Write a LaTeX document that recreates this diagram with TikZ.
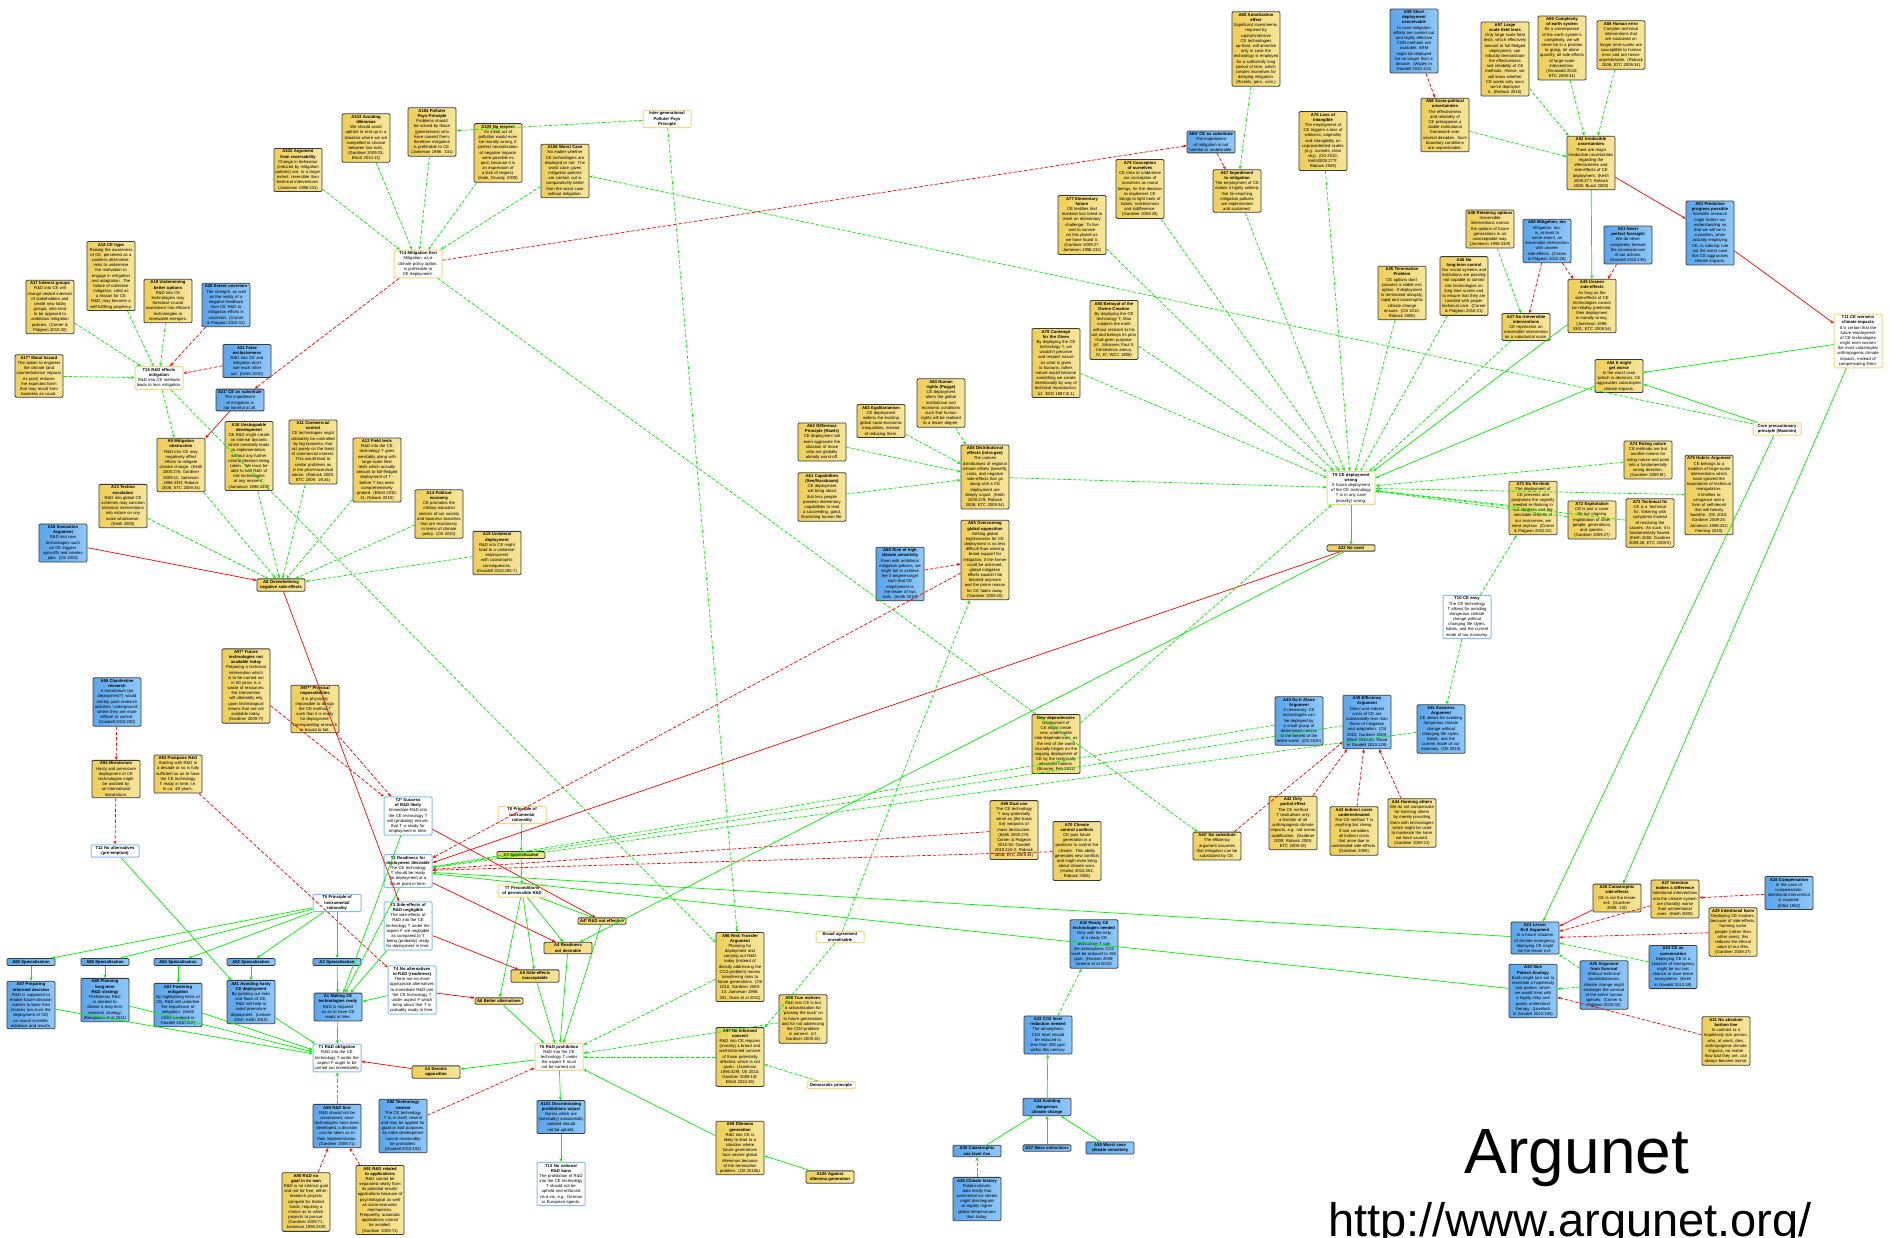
\documentclass[tikz,border=0pt]{standalone}
\usepackage{fontspec}
\setmainfont{Liberation Sans}
\usetikzlibrary{arrows.meta}

\definecolor{ylL}{HTML}{EFCF58}
\definecolor{ylR}{HTML}{F6E59C}
\definecolor{blL}{HTML}{5AA5EC}
\definecolor{blR}{HTML}{8FC7F8}
\definecolor{bdr}{HTML}{3A3A3A}
\definecolor{thYb}{HTML}{F2D77E}
\definecolor{thBb}{HTML}{86BDF0}
\definecolor{gr}{HTML}{00F000}
\definecolor{rd}{HTML}{FF0000}

% small box text, no hyphenation
\newcommand{\boxfont}{\fontsize{4.2}{5.17}\selectfont\hyphenpenalty=10000\exhyphenpenalty=10000}

\tikzset{
  box/.style={rectangle, rounded corners=1.2pt, text width=45pt, align=center,
    inner xsep=1.5pt, inner ysep=1.6pt, font=\boxfont, line width=0.8pt},
  argY/.style={box, draw=bdr, left color=ylL, right color=ylR},
  argB/.style={box, draw=bdr, left color=blL, right color=blR},
  thY/.style={box, draw=thYb, fill=white, line width=1pt},
  thB/.style={box, draw=thBb, fill=white, line width=1pt},
  link/.style={line width=0.7pt, -{Stealth[length=3.6pt,width=3pt]}},
  pro/.style={link, draw=gr, dash pattern=on 3.5pt off 1.8pt},
  proS/.style={link, draw=gr},
  con/.style={link, draw=rd, dash pattern=on 3.5pt off 1.8pt},
  conS/.style={link, draw=rd},
}

% argument or thesis box with a bold title and a body text
\newcommand{\mkarg}[5]{\node[#1] (#2) at (#3) {\textbf{#4}\\#5};}
% box that carries a title only
\newcommand{\mktitle}[4]{\node[#1] (#2) at (#3) {\textbf{#4}};}

\begin{document}
\begin{tikzpicture}[x=1pt, y=-1pt]
\useasboundingbox (0,0) rectangle (1889,1238);
\fill[white] (0,0) rectangle (1889,1238);

% ---------- mitigation cluster ----------
\mkarg{argY}{a102}{298,170}{A102 Argument from reversability}{Change in behaviour (induced by mitigation policies) are, to a larger extent, reversible than technical interventions. (Jamieson 1996:331)}
\mkarg{argY}{a103}{366,138}{A103 Avoiding dilemmas}{We should avoid upfront to end up in a situation where we are compelled to choose between two evils. (Gardiner 2009:23; Elliott 2010:13)}
\mkarg{argY}{a104}{432,132}{A104 Polluter Pays Principle}{Problems should be solved by those (generations) who have caused them; therefore mitigation is preferable to CE. (Jamieson 1996: 331)}
\mkarg{argY}{a105}{498,153}{A105 No respect}{An initial act of pollution would even be morally wrong, if perfect neutralisation of negative impacts were possible ex post, because it is an expression of a lack of respect. (Hale, Grundy, 2009)}
\mkarg{argY}{a106}{565,171}{A106 Worst Case}{No matter whether CE technologies are deployed or not: The worst case, given mitigation policies are carried, out is comparatively better than the worst case without mitigation.}
\mktitle{thY}{igpp}{667,119}{Inter-generational Polluter Pays Principle}
\mkarg{thY}{t14}{418,264}{T14 Mitigation first}{Mitigation, as a climate policy option, is preferable to CE deployment.}

\mkarg{argY}{a17}{50,307}{A17 Interest groups}{R\&D into CE will change vested interests of stakeholders and create new lobby groups, who tend to be opposed to ambitious mitigation policies. (Corner \& Pidgeon 2010:30)}
\mkarg{argY}{a18}{111,276}{A18 CE hype}{Raising the awareness of CE, perceived as a painless alternative, risks to undermine the motivation to engage in mitigation and adaptation. The failure of collective mitigation, cited as a reason for CE R\&D, may become a self-fulfilling prophecy.}
\mkarg{argY}{a19}{168,301}{A19 Undermining better options}{R\&D into CE technologies may foreclose crucial investment into efficient technologies or renewable energies.}
\mkarg{argB}{a20}{226,305}{A20 Extent uncertain}{The strength, as well as the reality of a negative feedback from CE R\&D to mitigation efforts is uncertain. (Corner \& Pidgeon 2010:31)}
\mkarg{argY}{a17s}{39,376}{A17* Moral hazard}{The option to engineer the climate (and counterbalance impacts ex post) reduces the expected harm that may result from business as usual.}
\mkarg{thY}{t15}{159,378}{T15 R\&D effects mitigation}{R\&D into CE methods leads to less mitigation.}
\mkarg{argB}{a21}{247,361}{A21 False exclusiveness}{R\&D into CE and mitigation don't rule each other out. (Keith 2010)}
\mkarg{argB}{a21p}{240,400}{A21' CE as substitute}{The impediment of mitigation is not harmful at all.}

% ---------- side-effects of R&D ----------
\mkarg{argY}{a9}{181,465}{A9 Mitigation obstruction}{R\&D into CE may negatively effect efforts to mitigate climate change. (Keith 2000:276; Gardiner 2009:11; Jamieson 1996:333f; Robock 2008; ETC 2009:34)}
\mkarg{argY}{a10}{249,456}{A10 Unstoppable development}{CE R\&D might create an internal dynamic which inevitably leads to implementation, without any further central decision being taken. 'We must be able to halt R\&D of risk technologies at any moment'. (Jamieson 1996:333f)}
\mkarg{argY}{a11}{313,452}{A11 Commercial control}{CE technologies might ultimately be controlled by big business, that act purely on the basis of commercial interest. This would lead to similar problems as in the pharmaceutical sector. (Robock 2008; ETC 2009: 29,34)}
\mkarg{argY}{a12}{377,470}{A12 Field tests}{R\&D into the CE technology T goes inevitably along with large-scale field tests which actually amount to full-fledged deployment of T - before T has been comprehensively probed. (Elliott 2010: 11; Robock 2010)}
\mkarg{argY}{a13}{123,506}{A13 Techno escalation}{R\&D into global CE schemes may sanction technical interventions into nature on any scale whatsoever. (Keith 2000)}
\mkarg{argY}{a14}{439,514}{A14 Political economy}{CE promotes the military-industrial sectors of our society and business branches that are reactionary in terms of climate policy. (Ott 2010)}
\mkarg{argY}{a15}{497,553}{A15 Unilateral deployment}{R\&D into CE might lead to a unilateral employment with catastrophic consequences. (Goodell 2010:195-7)}
\mkarg{argB}{a16}{63,543}{A16 Innovation Argument}{R\&D into new technologies such as CE triggers spin-offs and creates jobs. (Ott 2010)}
\mktitle{argY}{a8}{281,585}{A8 Overwhelming negative side-effects}

% ---------- readiness ----------
\mkarg{argY}{a97s}{246,686}{A97* Future technologies not available today}{Preparing a technical intervention which is to be carried out in 50 years is a waste of resources: the intervention will ultimately rely upon technological means that are not available today. (Gardiner 2009:7f)}
\mkarg{argY}{a97ss}{315,709}{A97** Physical impossibilities}{It is physically impossible to design the CE method T such that it is ready for deployment; corresponding research is bound to fail.}
\mkarg{argB}{a95}{117,702}{A95 Clandestine research}{A moratorium (on deployment?) would merely push research activities 'underground', where they are more difficult to control. (Goodell 2010:200)}
\mkarg{argY}{a94}{116,779}{A94 Moratorium}{Hasty and premature deployment of CE technologies might be avoided by an international moratorium.}
\mkarg{argY}{a93}{178,774}{A93 Postpone R\&D}{Starting with R\&D in a decade or so is fully sufficient so as to have the CE technology T ready in time, i.e. in ca. 40 years.}
\mkarg{thB}{t2s}{408,816}{T2* Success of R\&D likely}{Immediate R\&D into the CE technology T will (probably) ensure, that T is ready for employment in time.}
\mktitle{thB}{t12}{115,851}{T12 No alternatives (pre-emption)}
\mkarg{thB}{t2}{408,871}{T2 Readiness for deployment desirable}{The CE technology T should be ready for deployment at a future point in time.}
\mktitle{thB}{t5}{337,903}{T5 Principle of instrumental rationality}
\mkarg{thB}{t3}{408,926}{T3 Side-effects of R\&D negligible}{The side-effects of R\&D into the CE technology T under the aspect F are negligible as compared to T being (probably) ready for deployment in time.}
\mkarg{thB}{t4}{412,990}{T4 No alternatives to R\&D (readiness)}{There are no more appropriate alternatives to immediate R\&D into the CE technology T under aspect F which bring about that T is probably ready in time.}

% ---------- R&D obligation ----------
\mktitle{argB}{a88}{31,962}{A88 Specialisation}
\mktitle{argB}{a86}{105,962}{A86 Specialisation}
\mktitle{argB}{a84x}{178,962}{A84 Specialisation}
\mktitle{argB}{a82}{251,962}{A82 Specialisation}
\mktitle{argB}{a2}{337,962}{A2 Specialisation}
\mkarg{argB}{a87}{31,1005}{A87 Preparing informed decision}{R\&D is supposed to enable future decision makers to base their choices (vis-à-vis the deployment of CE) on sound scientific evidence and results.}
\mkarg{argB}{a85}{105,1000}{A85 Planning long-term R\&D strategy}{Preliminary R\&D is needed to devise a long-term research strategy. (Bengtsson et al 2011)}
\mkarg{argB}{a83}{178,1005}{A83 Fostering mitigation}{By highlighting limits of CE, R\&D will underline the importance of mitigation. (Keith 2010; Lovelock in Goodell 2010:107)}
\mkarg{argB}{a81}{251,1002}{A81 Avoiding hasty CE deployment}{By pointing out risks and flaws of CE, R\&D will help to avoid premature deployment. (Leisner 2010; Keith 2010)}
\mkarg{argB}{a1}{338,1007}{A1 Making CE technologies ready}{R\&D is required so as to have CE ready in time.}
\mkarg{thB}{t1}{337,1058}{T1 R\&D obligation}{R\&D into the CE technology T under the aspect F ought to be carried out immediately.}
\mktitle{argY}{a3}{436,1072}{A3 Deontic opposition}
\mkarg{argB}{a89}{337,1126}{A89 R\&D first}{R\&D should not be constrained; once technologies have been developed, a decision can be taken as to their implementation. (Gardiner 2009:71)}
\mkarg{argB}{a92}{403,1126}{A92 Technology neutral}{The CE technology T is, in itself, neutral and may be applied for good or bad purposes. Its mere development cannot reasonably be prohibited. (Goodell 2010:192)}
\mkarg{argY}{a90}{306,1202}{A90 R\&D no goal in its own}{R\&D is no intrinsic goal and not for free, either: research projects compete for limited funds, requiring a choice as to which projects to pursue. (Gardiner 2009:71; Jamieson 1996:333f)}
\mkarg{argY}{a91}{380,1200}{A91 R\&D related to applications}{R\&D cannot be separated neatly from its potential results' applications because of psychological as well as socio-economic mechanisms. Frequently, automatic applications cannot be avoided. (Gardiner 2009:71)}

% ---------- R&D prohibition ----------
\mktitle{thY}{t8}{522,815}{T8 Principle of instrumental rationality}
\mktitle{argY}{a7}{521,855}{A7 Specialisation}
\mktitle{thY}{t7}{522,891}{T7 Preconditions of permissible R\&D}
\mktitle{argY}{a4s}{602,921}{A4* R\&D not effective}
\mktitle{argY}{a4}{568,948}{A4 Readiness not desirable}
\mktitle{argY}{a5}{535,976}{A5 Side-effects inacceptable}
\mktitle{argY}{a6}{499,1001}{A6 Better alternatives}
\mkarg{thY}{t6}{559,1057}{T6 R\&D prohibition}{R\&D into the CE technology T under the aspect F must not be carried out.}
\mkarg{argB}{a101}{561,1117}{A101 Discriminating prohibitions unjust}{Norms which are (inevitably) substantially violated should not be upheld.}
\mkarg{thB}{t13}{561,1184}{T13 No national R\&D bans}{The prohibition of R\&D into the CE technology T should not be upheld and enforced vis-à-vis, e.g., German or European agents.}
\mkarg{argY}{a96}{740,967}{A96 Risk Transfer Argument}{Planning for deployment and carrying out R\&D today (instead of directly addressing the CO2-problem) means transferring risks to future generations. (Ott 2010; Gardiner 2009: 13; Jamieson 1996: 331; Goes et al 2011)}
\mktitle{thY}{broad}{840,937}{Broad agreement unrealisable}
\mkarg{argY}{a98}{803,1019}{A98 True motives}{R\&D into CE is but a rationalisation for 'passing the buck' on to future generations and for not addressing the CO2-problem in earnest. (cf. Gardiner 2009:16)}
\mkarg{argY}{a97}{740,1057}{A97 No informed consent}{R\&D into CE requires (morally) a broad and well-informed consent of those potentially affected, which is not given. (Jamieson 1996:329f; Ott 2010; Gardiner 2009:14f; Elliott 2010:19)}
\mktitle{thY}{democ}{831,1085}{Democratic principle}
\mkarg{argY}{a99}{740,1148}{A99 Dilemma generation}{R\&D into CE is likely to lead to a situation where future generations face severe global dilemmas because of the termination problem. (Ott 2010b)}
\mktitle{argY}{a100}{830,1177}{A100 Against dilemma generation}

% ---------- justice ----------
\mkarg{argY}{a63}{881,421}{A63 Egalitarianism}{CE deployment widens the existing global socio-economic inequalities, instead of reducing them.}
\mkarg{argY}{a64}{941,403}{A64 Human rights (Pogge)}{CE deployment alters the global institutional and economic conditions such that human rights will be realised to a lesser degree.}
\mkarg{argY}{a62}{822,442}{A62 Difference Principle (Rawls)}{CE deployment will even aggravate the situation of those who are globally already worst-off.}
\mkarg{argY}{a61}{822,497}{A61 Capabilities (Sen/Nussbaum)}{CE deployment will bring about that less people possess elementary capabilities to lead a succeeding, good, flourishing human life.}
\mkarg{argB}{a66}{900,574}{A66 Risk of high climate sensitivity}{Even with ambitious mitigation policies, we might fail to achieve the 2-degree-target such that CE employment is the lesser of two evils. (Keith 2010)}
\mkarg{argY}{a68}{985,477}{A68 Distributional effects (intra-gen)}{The uneven distributions of regional climate offsets (benefit), costs, and negative side-effects that go along with a CE deployment are deeply unjust. (Keith 2000:278; Robock 2008; ETC 2009:34)}
\mkarg{argY}{a65}{985,560}{A65 Overcoming global opposition}{Getting global legitimisation for CE deployment is no less difficult than winning broad support for mitigation; if the former could be achieved, global mitigation efforts wouldn't be blocked anymore and the prime reason for CE fades away. (Gardiner 2009:15)}
\mkarg{argY}{newdep}{1056,744}{New dependencies}{Deployment of CE might create new, undesirable inter-dependencies, as the rest of the world crucially hinges on the ongoing deployment of CE by the technically advanced nations. (Brunner, Feb 2011)}
\mkarg{argY}{a69}{1014,830}{A69 Dual use}{The CE technology T may potentially serve as (the basis for) weapons of mass destruction. (Keith 2000:276; Corner \& Pidgeon 2010:30; Goodell 2010:210-2; Robock 2008; ETC 2009:34)}
\mkarg{argY}{a70}{1077,851}{A70 Climate control conflicts}{CE puts future generation in a positions to control the climate. This ability generates new conflicts and might even bring about climate wars. (Hulme 2010:351; Robock 2008)}

% ---------- climate targets ----------
\mkarg{argB}{a32}{1094,944}{A32 Ready CE technologies needed}{Only with the help of a ready CE technology T can the atmospheric CO2 level be reduced to 350 ppm. (Hansen 2009; Greene et al 2010)}
\mkarg{argB}{a33}{1048,1035}{A33 CO2 level reduction needed}{The atmospheric CO2 level should be reduced to less than 350 ppm within this century.}
\mktitle{argB}{a34}{1047,1107}{A34 Avoiding dangerous climate change}
\mktitle{argB}{a35}{977,1151}{A35 Catastrophic sea level rise}
\mktitle{argB}{a37}{1047,1148}{A37 Mass extinctions}
\mktitle{argB}{a38}{1110,1148}{A38 Worst case climate sensitivity}
\mkarg{argB}{a36}{977,1199}{A36 Climate history}{Palaeo-climatic data testify that continental ice sheets might disintegrate at slightly higher global temperatures than today.}

% ---------- efficiency ----------
\mkarg{argY}{a44p}{1217,846}{A44' No substitute}{The efficiency argument assumes that mitigation can be substituted by CE.}
\mkarg{argY}{a42}{1293,823}{A42 Only partial effect}{The CE method T neutralises only a fraction of all anthropogenic climate impacts, e.g. not ocean acidification. (Gardiner 2009; Robock 2008; ETC 2009:19)}
\mkarg{argY}{a43}{1354,831}{A43 Indirect costs underestimated}{The CE method T is anything but cheap, if one considers all indirect costs that arise due to unintended side-effects. (Gardiner 2009)}
\mkarg{argY}{a44}{1412,823}{A44 Harming others}{We do not compensate for harming others by merely providing them with technologies which might be used to moderate the harm we have caused. (Gardiner 2009:13)}
\mkarg{argB}{a40}{1299,721}{A40 Do It Alone Argument}{If necessary, CE technologies can be deployed by a small group of determined nations to the benefit of the entire world. (Ott 2010)}
\mkarg{argB}{a39}{1367,722}{A39 Efficiency Argument}{Direct and indirect costs of CE are substantially less than those of mitigation and adaptation. (Ott 2010; Gardiner 2009; Elliott 2010:20; Wood in Goodell 2010:129)}
\mkarg{argB}{a41}{1441,729}{A41 Easiness Argument}{CE allows for avoiding dangerous climate change without changing life styles, habits, and the current mode of our economy. (Ott 2010)}

% ---------- deployment ----------
\mkarg{thY}{t9}{1351,488}{T9 CE deployment wrong}{A future deployment of the CE technology T is in any case (morally) wrong.}
\mktitle{argY}{a22}{1351,548}{A22 No need}
\mkarg{thB}{t10}{1467,617}{T10 CE easy}{The CE technology T allows for avoiding dangerous climate change without changing life styles, habits, and the current mode of our economy.}
\mkarg{argY}{a71}{1533,508}{A71 No Re-think}{The deployment of CE prevents and postpones the urgently needed re-thinking in our societies and the inevitable reforms of our economies, we need anyhow. (Corner \& Pidgeon 2010:32)}
\mkarg{argY}{a72}{1592,520}{A72 Exploitation}{CE is just a cover for our ongoing exploitation of other people, generations, and species. (Gardiner 2009:27)}
\mkarg{argY}{a73}{1650,523}{A73 Technical fix}{CE is a 'technical fix', tinkering with symptoms instead of resolving the causes. As such, it is fundamentally flawed. (Keith 2000; Gardiner 2009:26; ETC 2009:5)}
\mkarg{argY}{a74}{1648,460}{A74 Ruling nature}{CE methods are but another means for ruling nature and point into a fundamentally wrong direction. (Gardiner 2009:6f.)}
\mkarg{argY}{a75}{1709,495}{A75 Hubris Argument}{CE belongs to a tradition of large-scale interventions which have ignored the boundaries of technical manipulation. It testifies to arrogance and a form of self-deceit that will heavily backfire. (Ott 2010; Gardiner 2009:26; Jamieson 1996:332; Fleming 2010)}
\mktitle{thY}{core}{1777,429}{Core precautionary principle (Maximin)}

\mkarg{argY}{a60}{1256,49}{A60 Amortization effect}{Significant investments, required by capital-intensive CE technologies up-front, will amortize only in case the technology is employed for a sufficiently long period of time, which creates incentives for delaying mitigation. (Rickels, pers. com.)}
\mkarg{argB}{a68p}{1211,142}{A68' CE as substitute}{The impediment of mitigation is not harmful or undesirable.}
\mkarg{argY}{a78}{1140,189}{A78 Conception of ourselves}{CE risks to undermine our conception of ourselves as moral beings, for the decision to implement CE brings to light traits of hubris, recklessness and indifference. (Gardiner 2009:26)}
\mkarg{argY}{a67}{1237,191}{A67 Impediment to mitigation}{The employment of CE makes it highly unlikely that far-reaching mitigation policies are implemented and sustained.}
\mkarg{argY}{a76}{1323,141}{A76 Loss of intangible}{The employment of CE triggers a loss of wildness, originality and intangibility on unprecedented scales (e.g. sunsets, clear sky). (Ott 2010; Keith2000:277f; Robock 2008)}
\mkarg{argY}{a77}{1082,225}{A77 Elementary failure}{CE testifies that mankind has failed to meet an elementary challenge: To live and to survive on this planet as we have found it. (Gardiner 2009:27; Jamieson 1996:332)}
\mkarg{argY}{a80}{1114,330}{A80 Betrayal of the Divine Creation}{By deploying the CE technology T, Man subjects the earth without restraint to his will and betrays its prior God-given purpose. (cf. Johannes Paul II, Centesimus annus, IV, 37; WCC 1998)}
\mkarg{argY}{a79}{1056,363}{A79 Contempt for the Given}{By deploying the CE technology T, we wouldn't perceive and respect nature as what is given to humans; rather, nature would become something we create intentionally by way of technical reproduction. (cf. EKD 1997,III.1)}
\mkarg{argY}{a45}{1402,293}{A45 Termination Problem}{CE options don't possess a viable exit option. If deployment is terminated abruptly, rapid and catastrophic climate change ensues. (Ott 2010; Robock 2008)}

% ---------- uncertainty ----------
\mkarg{argB}{a59}{1414,41}{A59 Short deployment conceivable}{In case mitigation efforts are carried out and highly effective CDR methods are available, SRM might be deployed for no longer than a decade. (Wigley in Goodell 2010:133)}
\mkarg{argY}{a57}{1505,59}{A57 Large scale field tests}{Only large scale field tests, which effectively amount to full-fledged deployment, can robustly demonstrate the effectiveness and reliability of CE methods. Hence, we will know whether CE works only once we've deployed it. (Robock 2010)}
\mkarg{argY}{a56}{1562,48}{A56 Complexity of earth system}{As a consequence of the earth system's complexity, we will never be in a position to grasp, let alone quantify, all side-effects of large-scale interventions. (Grunwald 2010; ETC 2009:34)}
\mkarg{argY}{a55}{1621,45}{A55 Human error}{Complex technical interventions that are sustained on longer time-scales are susceptible to human error and are hence unpredictable. (Robock 2008; ETC 2009:34)}
\mkarg{argY}{a58}{1445,125}{A58 Socio-political uncertainties}{The effectiveness and reliability of CE presuppose a stable institutional framework over several decades. Such boundary conditions are unpredictable.}
\mkarg{argY}{a52}{1591,163}{A52 Irreducible uncertainties}{There are major irreducible uncertainties regarding the effectiveness and side-effects of CE deployment. (Keith 2000:277; Robock 2008; Bunzl 2009)}
\mkarg{argB}{a53}{1710,233}{A53 Predictive progress possible}{Scientific research might further our understanding so that we will be in a position, when actually employing CE, to robustly rule out the worst case that CE aggravates climate impacts.}
\mkarg{argY}{a48}{1490,229}{A48 Retaining options}{Irreversible interventions narrow the options of future generations in an unacceptable way. (Jamieson 1996:330f)}
\mkarg{argB}{a50}{1547,241}{A50 Mitigation, too}{Mitigation, too, is, at least to some extent, an irreversible intervention with unseen side-effects. (Corner \& Pidgeon 2010:28)}
\mkarg{argB}{a51}{1628,245}{A51 Never perfect foresight}{We do never completely foresee the consequences of our actions. (Goodell 2010:135)}
\mkarg{argY}{a46}{1464,286}{A46 No long-term control}{Our social systems and institutions are possibly not capable to control risk technologies on long time scales and to ensure that they are handled with proper technical care. (Corner \& Pidgeon 2010:31)}
\mkarg{argY}{a47}{1526,327}{A47 No irreversible interventions}{CE represents an irreversible intervention on a substantial scale.}
\mkarg{argY}{a49}{1592,306}{A49 Unseen side-effects}{As long as the side-effects of CE technologies cannot be reliably predicted, their deployment is morally wrong. (Jamieson 1996: 330f.; ETC 2009:34)}
\mkarg{thY}{t11}{1858,341}{T11 CE worsens climate impacts}{It is certain that the future employment of CE technologies might even worsen the most catastrophic anthropogenic climate impacts, instead of compensating them.}
\mkarg{argY}{a54}{1619,376}{A54 It might get worse}{In the worst case (which is decisive), CE aggravates catastrophic climate impacts.}

% ---------- lesser evil ----------
\mkarg{argY}{a26}{1617,898}{A26 Catastrophic side-effects}{CE is not the lesser evil. (Gardiner 2009: 10f)}
\mkarg{argY}{a27}{1675,899}{A27 Intention makes a difference}{Intentional interventions into the climate system are (morally) worse than unintentional ones. (Keith 2000)}
\mkarg{argB}{a28}{1789,893}{A28 Compensation}{In the case of compensation, intentional intervention is required. (Elliot 1962)}
\mkarg{argY}{a29}{1733,932}{A29 Intentional harm}{Deploying CE involves, because of side-effects, harming some people (rather than other ones); this reduces the ethical value of our lifes. (Gardiner 2009:27)}
\mkarg{argB}{a23}{1535,938}{A23 Lesser Evil Argument}{In a future situation of climate emergency, deploying CE might be the lesser evil.}
\mkarg{argB}{a30}{1533,991}{A30 Sick Patient Analogy}{Earth might turn out to resemble a hopelessly sick patient, whom we would treat with a highly risky and poorly understood therapy. (Lovelock in Goodell 2010:195)}
\mkarg{argB}{a25}{1604,985}{A25 Argument from Survival}{Without technical counterbalances, climate change might endanger the survival of the entire human species. (Corner \& Pidgeon 2010:32)}
\mkarg{argB}{a24}{1673,967}{A24 CE as conservation}{Deploying CE in a situation of emergency might be our last chance to save entire ecosystems. (Keith in Goodell 2010:39)}
\mkarg{argY}{a31}{1726,1041}{A31 No absolute bottom line}{In contrast to a hopelessly sick person, who, at worst, dies, anthropogenic climate impacts, no matter how bad they are, can always become worse.}

% ---------- branding ----------
\node[anchor=base, inner sep=0, font=\fontsize{64}{70}\selectfont] (brand) at (1577,1173) {Argunet};
\node[anchor=base, inner sep=0, font=\fontsize{47}{52}\selectfont] (url) at (1570,1236) {http://www.argunet.org/};

% ---------- connectors ----------
% mitigation first
\foreach \s in {a102,a103,a104,a105,a106} \draw[pro] (\s) -- (t14);
\draw[pro] (igpp) -- (a104);
\draw[pro] (igpp) -- (a96);
\draw[con] (t14) -- (a68p);
\draw[con] (t14) -- (a21p);
\draw[pro] (t14) -- (a44p);
\draw[pro] (core) -- (a106);
% R&D effects mitigation
\foreach \s in {a17,a18,a19,a17s} \draw[pro] (\s) -- (t15);
\draw[con] (a20) -- (t15);
\draw[con] (a21) -- (t15);
\draw[pro] (t15) -- (a9);
\draw[pro] (t15) -- (a96);
\draw[conS] (a21p) -- (a9);
% overwhelming side-effects
\foreach \s in {a9,a10,a11,a12,a13,a14,a15} \draw[pro] (\s) -- (a8);
\draw[conS] (a16) -- (a8);
\draw[conS] (a8) -- (t3);
% readiness
\draw[con] (a97s) -- (t2s);
\draw[con] (a97ss) -- (t2s);
\draw[con] (a95) -- (a94);
\draw[con] (a94) -- (t12);
\draw[con] (a93) -- (t4);
\draw[proS] (t12) -- (a81);
\foreach \s in {a88,a86,a84x,a82,a2} \draw[proS] (t5) -- (\s);
\draw[proS] (a88) -- (a87);
\draw[proS] (a86) -- (a85);
\draw[proS] (a84x) -- (a83);
\draw[proS] (a82) -- (a81);
\draw[proS] (a2) -- (a1);
\foreach \s in {a87,a85,a83,a81,a1} \draw[proS] (\s) -- (t1);
\foreach \s in {t2s,t2,t3,t4} \draw[proS] (\s) -- (a1);
\draw[conS] (a3) -- (t1);
\draw[pro] (a89) -- (t1);
\draw[con] (a90) -- (a89);
\draw[con] (a91) -- (a89);
\draw[con] (a92) -- (t6);
% prohibition
\draw[conS] (t2s) -- (a4s);
\draw[conS] (t2) -- (a4);
\draw[conS] (t3) -- (a5);
\draw[conS] (t4) -- (a6);
\draw[proS] (t8) -- (a7);
\draw[proS] (a7) -- (t7);
\foreach \s in {a4s,a4,a5,a6} {\draw[proS] (t7) -- (\s); \draw[proS] (\s) -- (t6);}
\draw[proS] (t6) -- (a3);
\draw[proS] (t6) -- (a101);
\draw[proS] (a101) -- (t13);
\draw[pro] (a96) -- (t6);
\draw[pro] (a97) -- (t6);
\draw[pro] (a98) -- (t6);
\draw[proS] (a99) -- (t6);
\draw[proS] (a100) -- (a99);
\draw[pro] (democ) -- (a97);
\draw[pro] (broad) -- (a97);
\draw[pro] (broad) -- (a65);
% readiness desirable
\draw[conS] (a22) -- (t2);
\draw[proS] (a22) -- (a4);
\draw[con] (a69) -- (t2);
\draw[con] (a70) -- (t2);
\draw[con] (a65) -- (t2);
\draw[con] (a66) -- (a65);
\foreach \s in {a39,a40,a41} \draw[pro] (\s) -- (t2);
\draw[proS] (a23) -- (t2);
\draw[proS] (a30) -- (t2);
\foreach \s in {a42,a43,a44,a44p} \draw[con] (\s) -- (a39);
\draw[pro] (a33) -- (a32);
\draw[proS] (a34) -- (a33);
\foreach \s in {a35,a37,a38} \draw[proS] (\s) -- (a34);
\draw[pro] (a36) -- (a35);
% deployment wrong
\draw[pro] (a60) -- (a67);
\draw[con] (a68p) -- (a67);
\foreach \s in {a78,a67,a76,a77,a80,a79,a45,a46,a47,a68,newdep,a71,a72,a73,a74,a75} \draw[pro] (\s) -- (t9);
\draw[proS] (a49) -- (t9);
\draw[proS] (a54) -- (t9);
\foreach \s in {a62,a61,a63,a64} \draw[pro] (\s) -- (a68);
\draw[proS] (t9) -- (a22);
\draw[pro] (t10) -- (a71);
\draw[pro] (t10) -- (a41);
% uncertainties
\draw[con] (a59) -- (a58);
\foreach \s in {a57,a56,a55,a58} \draw[pro] (\s) -- (a52);
\draw[conS] (a52) -- (a53);
\draw[conS] (a53) -- (t11);
\draw[proS] (a52) -- (a49);
\draw[con] (a50) -- (a47);
\draw[con] (a50) -- (a49);
\draw[con] (a51) -- (a49);
\draw[pro] (a48) -- (a47);
\draw[proS] (t11) -- (a54);
\draw[proS] (core) -- (a54);
\draw[proS] (t11) -- (a26);
\draw[proS] (core) -- (a23);
% lesser evil
\draw[conS] (a26) -- (a23);
\draw[con] (a27) -- (a23);
\draw[con] (a28) -- (a27);
\draw[con] (a29) -- (a23);
\draw[pro] (a24) -- (a23);
\draw[pro] (a25) -- (a23);
\draw[pro] (a25) -- (a30);
\draw[con] (a31) -- (a30);
\end{tikzpicture}
\end{document}
